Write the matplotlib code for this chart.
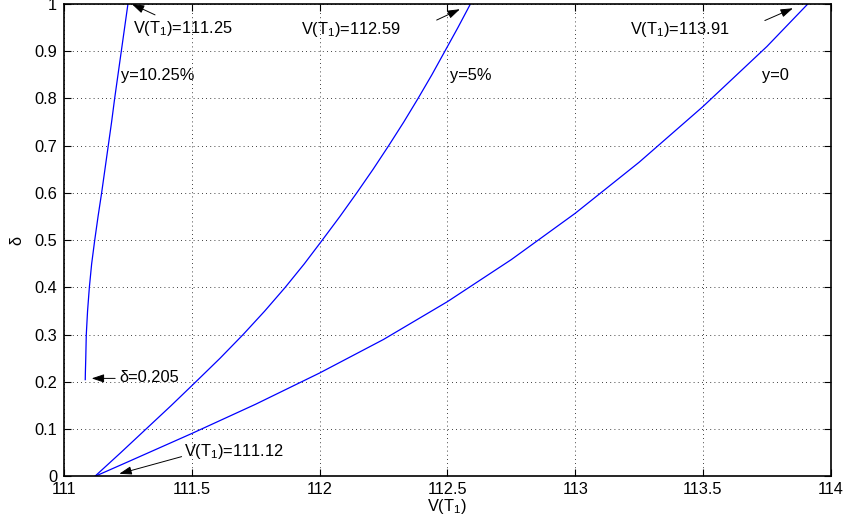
import numpy as np
import matplotlib
matplotlib.use("Agg")
import matplotlib.pyplot as plt

plt.rcParams['font.family'] = ['Liberation Sans', 'DejaVu Sans']
plt.rcParams['mathtext.fontset'] = 'custom'
plt.rcParams['mathtext.rm'] = 'Liberation Sans'
plt.rcParams['mathtext.it'] = 'Liberation Sans:italic'

# y = 0 curve, delta read at fixed V(T1) values
v_y0 = [111.12, 111.25, 111.5, 111.75, 112.0, 112.25, 112.5, 112.75, 113.0, 113.25, 113.5, 113.75, 113.91]
delta_y0 = [0.0, 0.031, 0.091, 0.153, 0.219, 0.29, 0.37, 0.459, 0.557, 0.665, 0.783, 0.91, 1.0]

# y = 5% curve, V(T1) read every 0.05 of delta
delta_y5 = [0.0, 0.05, 0.1, 0.15, 0.2, 0.25, 0.3, 0.35, 0.4, 0.45, 0.5,
            0.55, 0.6, 0.65, 0.7, 0.75, 0.8, 0.85, 0.9, 0.95, 1.0]
v_y5 = [111.12, 111.221, 111.32, 111.419, 111.515, 111.61, 111.70, 111.785, 111.865, 111.94, 112.01,
        112.079, 112.145, 112.209, 112.27, 112.329, 112.385, 112.439, 112.49, 112.541, 112.59]

# y = 10.25% curve, starts at delta = 0.205
delta_10 = [0.205, 0.22, 0.25, 0.3, 0.35, 0.4, 0.45, 0.5, 0.55, 0.6,
            0.65, 0.7, 0.75, 0.8, 0.85, 0.9, 0.95, 1.0]
v_y10 = [111.083, 111.0835, 111.085, 111.087, 111.092, 111.099, 111.108, 111.12, 111.133, 111.147,
         111.160, 111.173, 111.186, 111.198, 111.211, 111.224, 111.237, 111.25]

x_ticks = [111, 111.5, 112, 112.5, 113, 113.5, 114]
x_labels = ['111', '111.5', '112', '112.5', '113', '113.5', '114']
y_ticks = [0, 0.1, 0.2, 0.3, 0.4, 0.5, 0.6, 0.7, 0.8, 0.9, 1.0]
y_labels = ['0', '0.1', '0.2', '0.3', '0.4', '0.5', '0.6', '0.7', '0.8', '0.9', '1']

fs = 11.8

fig = plt.figure(figsize=(8.46, 5.2), dpi=100)
ax = fig.add_axes([0.0757, 0.0837, 0.9063, 0.9086])

ax.plot(v_y10, delta_10, color='#0000ff', lw=0.9)
ax.plot(v_y5, delta_y5, color='#0000ff', lw=0.9)
ax.plot(v_y0, delta_y0, color='#0000ff', lw=0.9)

ax.set_xlim(111, 114)
ax.set_ylim(0, 1)
ax.set_xticks(x_ticks)
ax.set_xticklabels(x_labels, fontsize=fs)
ax.set_yticks(y_ticks)
ax.set_yticklabels(y_labels, fontsize=fs)
ax.tick_params(direction='in', length=5, width=0.8, top=True, right=True)
ax.tick_params(axis='x', pad=4)
ax.tick_params(axis='y', pad=5)
ax.grid(True, color='black', linestyle=(0, (1, 4)), lw=0.6)
for s in ax.spines.values():
    s.set_linewidth(1.2)

ax.set_xlabel('V(T$_\\mathrm{1}$)', fontsize=fs, labelpad=0)
ax.set_ylabel('δ', fontsize=fs, labelpad=7)

arrow = dict(arrowstyle='-|>,head_length=0.75,head_width=0.25', color='black', lw=0.7, shrinkA=0, shrinkB=0)

ax.annotate('', xy=(111.265, 1.0), xytext=(111.356, 0.977), arrowprops=arrow, annotation_clip=False)
ax.text(111.27, 0.949, 'V(T$_\\mathrm{1}$)=111.25', fontsize=fs, ha='left', va='center')
ax.text(111.222, 0.849, 'y=10.25%', fontsize=fs, ha='left', va='center')

ax.annotate('', xy=(112.549, 0.989), xytext=(112.458, 0.966), arrowprops=arrow)
ax.text(111.926, 0.947, 'V(T$_\\mathrm{1}$)=112.59', fontsize=fs, ha='left', va='center')
ax.text(112.51, 0.849, 'y=5%', fontsize=fs, ha='left', va='center')

ax.annotate('', xy=(113.852, 0.991), xytext=(113.742, 0.965), arrowprops=arrow)
ax.text(113.214, 0.947, 'V(T$_\\mathrm{1}$)=113.91', fontsize=fs, ha='left', va='center')
ax.text(113.729, 0.849, 'y=0', fontsize=fs, ha='left', va='center')

ax.annotate('', xy=(111.108, 0.2076), xytext=(111.2, 0.2076), arrowprops=arrow)
ax.text(111.216, 0.21, 'δ=0.205', fontsize=fs, ha='left', va='center')

ax.annotate('', xy=(111.216, 0.0057), xytext=(111.46, 0.042), arrowprops=arrow)
ax.text(111.47, 0.0536, 'V(T$_\\mathrm{1}$)=111.12', fontsize=fs, ha='left', va='center')

fig.savefig('out.png', dpi=100)
